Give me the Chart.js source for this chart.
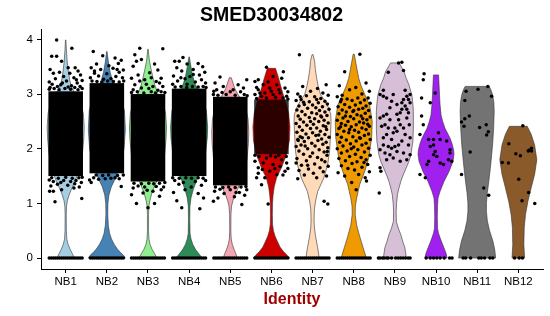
<!DOCTYPE html>
<html>
<head>
<meta charset="utf-8">
<script src="https://cdn.jsdelivr.net/npm/chart.js@4.4.1/dist/chart.umd.min.js"></script>
<style>
  html, body { margin: 0; padding: 0; background: #fff; }
</style>
</head>
<body>
<canvas id="chart" width="550" height="316"></canvas>
<script>
// ======================
// DATA
// ======================

const groups = ['NB1', 'NB2', 'NB3', 'NB4', 'NB5', 'NB6', 'NB7', 'NB8', 'NB9', 'NB10', 'NB11', 'NB12'];
const yTicks = [0, 1, 2, 3, 4];

// violin outline: [expression, relative width]
const violinNB1 = [[0,0.47],[0.08,0.36],[0.16,0.24],[0.25,0.13],[0.35,0.06],[0.5,0.035],[0.8,0.03],[0.95,0.045],[1.05,0.09],[1.15,0.18],[1.25,0.3],[1.4,0.5],[1.6,0.72],[1.9,0.9],[2.2,0.98],[2.4,1],[2.65,0.95],[2.85,0.8],[3.0,0.55],[3.12,0.33],[3.25,0.22],[3.4,0.15],[3.6,0.08],[3.8,0.04],[3.99,0.01]];
const violinNB2 = [[0,1],[0.05,0.9],[0.1,0.74],[0.16,0.58],[0.25,0.4],[0.35,0.25],[0.45,0.15],[0.6,0.08],[0.8,0.05],[1.0,0.06],[1.15,0.11],[1.3,0.24],[1.45,0.45],[1.7,0.75],[2.0,0.93],[2.35,1],[2.7,0.95],[2.95,0.75],[3.1,0.5],[3.25,0.3],[3.4,0.18],[3.55,0.1],[3.7,0.04],[3.78,0.01]];
const violinNB3 = [[0,0.48],[0.08,0.36],[0.16,0.22],[0.25,0.11],[0.35,0.05],[0.5,0.03],[0.8,0.03],[0.95,0.05],[1.05,0.1],[1.2,0.22],[1.35,0.4],[1.6,0.7],[1.9,0.9],[2.2,0.98],[2.4,1],[2.65,0.95],[2.85,0.8],[3.0,0.55],[3.15,0.38],[3.3,0.27],[3.45,0.17],[3.6,0.08],[3.82,0.01]];
const violinNB4 = [[0,0.7],[0.07,0.55],[0.15,0.36],[0.25,0.2],[0.35,0.1],[0.45,0.05],[0.7,0.035],[0.95,0.045],[1.1,0.1],[1.25,0.22],[1.4,0.38],[1.6,0.62],[1.9,0.88],[2.2,0.98],[2.4,1],[2.7,0.93],[2.9,0.75],[3.05,0.5],[3.2,0.3],[3.35,0.18],[3.5,0.1],[3.68,0.01]];
const violinNB5 = [[0,0.38],[0.08,0.3],[0.16,0.2],[0.25,0.11],[0.35,0.05],[0.5,0.03],[0.8,0.035],[0.95,0.07],[1.05,0.14],[1.15,0.25],[1.3,0.45],[1.5,0.7],[1.8,0.9],[2.1,0.98],[2.3,1],[2.55,0.96],[2.75,0.82],[2.9,0.6],[3.0,0.4],[3.1,0.25],[3.2,0.15],[3.3,0.05]];
const violinNB6 = [[0,0.97],[0.05,0.85],[0.12,0.65],[0.2,0.47],[0.3,0.33],[0.4,0.2],[0.5,0.11],[0.62,0.06],[0.8,0.05],[1.0,0.06],[1.15,0.09],[1.3,0.15],[1.47,0.28],[1.65,0.54],[1.9,0.82],[2.15,0.97],[2.4,1],[2.65,0.93],[2.85,0.77],[3.0,0.63],[3.15,0.5],[3.3,0.38],[3.42,0.27],[3.47,0.22]];
const violinNB7 = [[0,0.36],[0.2,0.27],[0.4,0.16],[0.55,0.1],[0.7,0.08],[0.9,0.1],[1.04,0.16],[1.22,0.28],[1.46,0.6],[1.7,0.81],[1.95,0.92],[2.26,0.97],[2.5,1],[2.63,0.98],[2.75,0.86],[2.9,0.62],[2.99,0.43],[3.15,0.3],[3.29,0.22],[3.45,0.15],[3.6,0.11],[3.72,0.03]];
const violinNB8 = [[0,0.68],[0.2,0.5],[0.4,0.32],[0.6,0.16],[0.8,0.08],[0.95,0.09],[1.1,0.16],[1.34,0.32],[1.59,0.6],[1.83,0.81],[2.2,0.97],[2.5,1],[2.8,0.86],[2.99,0.6],[3.15,0.4],[3.29,0.27],[3.45,0.18],[3.6,0.1],[3.73,0.03]];
const violinNB9 = [[0,0.62],[0.1,0.58],[0.19,0.54],[0.3,0.43],[0.43,0.32],[0.55,0.18],[0.67,0.08],[0.85,0.07],[1.0,0.09],[1.16,0.14],[1.28,0.22],[1.4,0.32],[1.52,0.45],[1.64,0.6],[1.76,0.75],[1.88,0.86],[2.13,0.97],[2.37,1],[2.68,1],[2.83,0.97],[2.98,0.92],[3.17,0.76],[3.3,0.6],[3.42,0.49],[3.48,0.38],[3.57,0.23]];
const violinNB10 = [[0,0.6],[0.08,0.55],[0.19,0.43],[0.28,0.32],[0.37,0.22],[0.46,0.13],[0.55,0.08],[0.75,0.07],[0.95,0.08],[1.1,0.11],[1.22,0.22],[1.4,0.43],[1.58,0.7],[1.77,0.92],[1.9,0.97],[1.98,0.95],[2.1,0.86],[2.19,0.76],[2.3,0.6],[2.37,0.49],[2.5,0.36],[2.62,0.27],[2.8,0.22],[2.98,0.19],[3.2,0.16],[3.35,0.14]];
const violinNB11 = [[0,1],[0.15,0.95],[0.31,0.85],[0.5,0.67],[0.68,0.55],[0.85,0.5],[1.01,0.5],[1.2,0.55],[1.35,0.61],[1.55,0.68],[1.77,0.75],[2.1,0.84],[2.38,0.89],[2.68,0.92],[2.85,0.9],[2.99,0.83],[3.08,0.74],[3.14,0.65]];
const violinNB12 = [[0,0.34],[0.25,0.3],[0.56,0.32],[0.8,0.39],[1.04,0.52],[1.29,0.7],[1.53,0.88],[1.8,1],[2.07,0.88],[2.26,0.7],[2.35,0.57],[2.41,0.48]];

// dense point clouds (NB1..NB6): band where cells overlap completely
const cloudLow = [1.5, 1.55, 1.4, 1.5, 1.33, 1.9];
const cloudHigh = [3.05, 3.2, 3.0, 3.1, 2.95, 2.9];

// cells at zero expression: jitter offsets
const zeroFull = [-0.4,-0.35,-0.3,-0.25,-0.2,-0.15,-0.1,-0.05,0,0.05,0.1,0.15,0.2,0.25,0.3,0.35,0.4];
const zeroNB9 = [-0.4,-0.36,-0.3,-0.26,-0.2,-0.16,-0.08,0.02,0.08,0.14,0.2,0.26,0.32,0.37];
const zeroNB10 = [-0.24,-0.14,-0.06,0.02,0.1,0.2,0.33,0.39];
const zeroNB11 = [-0.34,-0.28,-0.16,0.04,0.1,0.18,0.31,0.38];
const zeroNB12 = [-0.09,0.02,0.1];

// individual cells: [jitter, expression]
const cellsNB1 = [[-0.22,3.99],[0.15,3.84],[-0.22,3.69],[-0.34,3.69],[-0.1,3.6],[0.06,3.48],[0.23,3.48],[0.3,3.42],[-0.38,3.45],[-0.3,3.38],[-0.15,3.4],[0.1,3.38],[0.36,3.35],[-0.05,3.32],[0.2,3.3],[-0.25,3.28],[0.4,3.25],[-0.4,3.22],[0.02,3.24],[-0.33,3.18],[0.28,3.2],[-0.12,3.17],[0.14,3.15],[0.35,3.14],[-0.2,3.14],[-0.38,3.12],[0.06,3.13],[0.22,3.12],
  [-0.4,3.09],[-0.28,3.1],[-0.16,3.08],[-0.02,3.1],[0.12,3.09],[0.3,3.08],[0.4,3.1],[-0.08,3.2],[0.26,3.26],
  [-0.26,1.03],[0.39,1.09],[-0.39,1.22],[-0.3,1.22],[-0.1,1.25],[0.2,1.28],[0.33,1.3],[-0.36,1.32],[0.05,1.33],[-0.2,1.35],[0.38,1.38],[0.12,1.4],[-0.3,1.4],[0.25,1.42],[-0.05,1.42],[-0.4,1.43],
  [-0.34,1.47],[-0.18,1.46],[0.0,1.48],[0.16,1.46],[0.32,1.47],[0.4,1.48],[-0.12,1.38],[0.22,1.36]];
const cellsNB2 = [[-0.33,3.78],[-0.1,3.7],[0.2,3.66],[0.35,3.62],[0.28,3.56],[-0.25,3.55],[0.05,3.52],[-0.38,3.48],[0.15,3.47],[-0.15,3.45],[0.4,3.44],[0.3,3.4],[-0.3,3.38],[0,3.37],[-0.2,3.33],[0.22,3.32],[0.38,3.3],[-0.4,3.3],[0.1,3.28],[-0.08,3.27],
  [-0.36,3.24],[-0.24,3.23],[-0.12,3.22],[0.02,3.24],[0.16,3.23],[0.3,3.22],[0.41,3.24],[-0.3,3.42],[0.25,3.45],
  [-0.38,1.38],[0.35,1.31],[-0.42,1.43],[0.3,1.45],[-0.2,1.44],[0.1,1.46],[-0.32,1.47],[0.2,1.47],
  [-0.26,1.52],[-0.1,1.51],[0.04,1.52],[0.26,1.51],[0.4,1.52],[-0.04,1.45]];
const cellsNB3 = [[-0.2,3.84],[0.36,3.83],[-0.32,3.72],[-0.16,3.63],[-0.28,3.6],[-0.36,3.51],[0.16,3.55],[0.24,3.44],[0.04,3.39],[-0.24,3.35],[0.32,3.29],[-0.4,3.29],[-0.08,3.26],[0.2,3.23],[0.12,3.14],[-0.32,3.17],[0.36,3.14],[-0.16,3.11],[0.24,3.07],[-0.36,3.08],[0.02,3.1],
  [-0.4,3.03],[-0.26,3.04],[-0.1,3.02],[0.08,3.04],[0.18,3.02],[0.32,3.04],[0.41,3.03],[-0.04,3.18],[0.28,3.2],[-0.2,3.24],[0.08,3.3],
  [-0.28,1.0],[0.16,1.0],[0,0.92],[-0.4,1.16],[0.28,1.13],[-0.12,1.19],[0.12,1.22],[-0.36,1.28],[0.32,1.25],[-0.08,1.3],[-0.24,1.32],[0.2,1.31],[0.38,1.3],
  [-0.34,1.37],[-0.16,1.36],[0.02,1.37],[0.14,1.36],[0.28,1.37],[0.41,1.38],[-0.02,1.24]];
const cellsNB4 = [[-0.35,3.6],[-0.24,3.6],[-0.15,3.67],[-0.05,3.55],[0.22,3.56],[0.33,3.5],[-0.3,3.48],[0.1,3.45],[-0.18,3.42],[0.38,3.4],[0.25,3.35],[-0.38,3.33],[0.02,3.32],[-0.1,3.28],[0.3,3.26],[-0.28,3.24],[0.15,3.22],[0.4,3.2],[-0.4,3.18],[-0.05,3.18],
  [-0.34,3.13],[-0.2,3.14],[-0.06,3.12],[0.08,3.14],[0.22,3.13],[0.34,3.14],[0.41,3.12],[-0.2,3.3],[0.1,3.36],
  [-0.18,0.92],[0.26,0.9],[-0.3,1.05],[0.35,1.1],[0.22,1.18],[-0.38,1.2],[-0.1,1.25],[0.05,1.3],[0.3,1.33],[-0.25,1.35],[0.15,1.4],[-0.35,1.42],[0.4,1.42],
  [-0.4,1.47],[-0.24,1.46],[-0.08,1.47],[0.06,1.46],[0.22,1.47],[0.34,1.46],[-0.14,1.38]];
const cellsNB5 = [[-0.25,3.31],[0.4,3.26],[-0.37,3.2],[-0.17,3.14],[0.19,3.17],[0.32,3.11],[-0.33,3.08],[0.07,3.08],[-0.4,3.05],[0,3.04],[0.25,3.04],[-0.2,3.03],
  [-0.3,2.98],[-0.1,2.99],[0.12,2.98],[0.34,2.99],[0.41,2.97],[-0.41,2.99],
  [0.28,0.98],[-0.41,1.04],[-0.3,1.1],[0.1,1.12],[0.35,1.15],[-0.15,1.18],[0.22,1.2],[-0.38,1.22],[0,1.25],[0.4,1.25],[-0.25,1.26],
  [-0.36,1.3],[-0.18,1.29],[-0.04,1.3],[0.12,1.29],[0.26,1.3],[0.38,1.31],[0.14,1.2]];
const cellsNB6 = [[-0.12,3.49],[-0.4,3.23],[-0.32,3.26],[0.29,3.41],[0.25,3.29],[0.04,3.32],[-0.2,3.17],[0.13,3.17],[-0.04,3.11],[-0.32,3.08],[0.33,3.11],[0.21,3.02],[-0.16,3.02],[-0.4,2.99],[0.04,2.99],[0.37,2.96],[-0.24,2.96],
  [-0.36,3.12],[0.4,3.04],[-0.08,3.22],[0.18,3.08],[-0.28,3.02],[0.1,2.94],[-0.12,2.93],[0.28,2.93],[-0.36,2.92],[0.4,2.91],[0.0,3.05],
  [-0.08,0.99],[-0.24,1.34],[-0.36,1.47],[-0.16,1.47],[0.13,1.53],[0.33,1.59],[-0.32,1.65],[-0.04,1.59],[0.21,1.68],[-0.4,1.77],[-0.2,1.74],[0.04,1.71],[0.37,1.74],[-0.12,1.83],[0.25,1.8],
  [-0.3,1.86],[0.1,1.85],[0.36,1.86],[-0.4,1.88],[0.18,1.88],[-0.02,1.87],[-0.22,1.62],[0.28,1.52],[0.4,1.64],[-0.32,1.55],[0.08,1.64]];
const cellsNB7 = [[-0.32,3.72],[-0.24,3.14],[0.33,3.17],[0.12,3.1],[-0.05,3.05],[0.25,3.02],[-0.36,3.0],[0.38,2.98],[-0.15,2.97],[0.05,2.95],[0.2,2.92],[-0.28,2.9],[-0.4,2.88],[0.3,2.87],[-0.08,2.86],[0.14,2.84],[0.36,2.82],[-0.2,2.81],[0,2.8],[-0.33,2.78],[0.24,2.77],[0.08,2.75],[-0.12,2.74],[0.4,2.72],[-0.38,2.71],[0.17,2.7],[-0.26,2.68],[0.3,2.67],[-0.02,2.66],[0.1,2.64],[-0.18,2.62],[0.35,2.61],[-0.35,2.6],[0.22,2.58],[-0.08,2.57],[0.05,2.55],[-0.3,2.54],[0.28,2.52],[0.15,2.5],[-0.22,2.49],[0.38,2.47],[-0.4,2.46],[0.02,2.45],[-0.14,2.43],[0.26,2.42],[-0.32,2.4],[0.1,2.38],[-0.05,2.37],[0.34,2.35],[-0.25,2.34],[0.19,2.32],[-0.38,2.3],[0,2.29],[-0.16,2.27],[0.3,2.26],[0.08,2.24],[-0.3,2.22],[0.4,2.21],[-0.1,2.2],[0.22,2.18],[-0.36,2.17],[0.13,2.15],[-0.2,2.13],[0.33,2.12],[-0.02,2.1],[0.25,2.08],[-0.28,2.07],[0.06,2.05],[-0.4,2.04],[0.37,2.02],[-0.12,2.0],[0.16,1.98],[-0.33,1.96],[0.28,1.94],[0,1.92],[-0.22,1.9],[0.35,1.88],[-0.06,1.86],[0.12,1.84],[-0.38,1.82],[0.22,1.8],[-0.15,1.78],[0.3,1.76],[-0.4,1.74],[0.05,1.72],[-0.27,1.7],[0.38,1.68],[0.18,1.65],[-0.1,1.63],[-0.33,1.6],[0.26,1.58],[0.02,1.55],[-0.2,1.52],[0.34,1.5],[0.1,1.47],[-0.36,1.45],[0.28,1.04],[0.37,0.99],
  [-0.3,2.95],[-0.22,2.85],[0.1,2.9],[-0.35,2.15],[-0.25,2.2],[-0.18,2.05],[0.2,2.6],[0.32,2.4],[-0.05,2.5],[0.15,2.25],[0.36,1.95],[-0.12,1.7]];
const cellsNB8 = [[0.15,3.73],[-0.22,3.41],[0.3,3.2],[-0.35,3.15],[0.05,3.12],[-0.1,3.08],[0.38,3.05],[0.2,3.0],[-0.28,2.98],[-0.4,2.95],[0.1,2.93],[0.35,2.93],[-0.16,2.91],[0.26,2.89],[-0.04,2.88],[-0.32,2.86],[0.16,2.84],[0.4,2.83],[-0.22,2.81],[0.04,2.8],[0.3,2.78],[-0.38,2.77],[-0.1,2.76],[0.22,2.74],[0.12,2.72],[-0.28,2.71],[0.36,2.7],[-0.02,2.68],[-0.18,2.67],[0.28,2.65],[-0.36,2.64],[0.08,2.62],[0.18,2.6],[-0.08,2.59],[0.4,2.58],[-0.26,2.56],[0,2.55],[0.32,2.53],[-0.4,2.52],[-0.14,2.5],[0.14,2.49],[0.24,2.47],[-0.3,2.46],[0.06,2.44],[-0.2,2.43],[0.38,2.41],[-0.06,2.4],[0.2,2.38],[-0.36,2.37],[0.3,2.35],[0.02,2.34],[-0.24,2.32],[0.12,2.3],[-0.12,2.29],[0.36,2.27],[-0.4,2.26],[0.26,2.24],[-0.02,2.22],[-0.3,2.21],[0.16,2.19],[0.4,2.17],[-0.18,2.16],[0.06,2.14],[-0.34,2.12],[0.3,2.1],[-0.08,2.09],[0.2,2.07],[-0.26,2.05],[0,2.03],[0.36,2.01],[-0.4,2.0],[0.1,1.98],[-0.16,1.96],[0.26,1.94],[-0.3,1.92],[0.04,1.9],[0.4,1.88],[-0.1,1.86],[0.18,1.84],[-0.36,1.82],[0.3,1.8],[-0.2,1.78],[0.08,1.76],[-0.04,1.73],[0.34,1.71],[-0.3,1.69],[0.2,1.66],[-0.14,1.64],[0.02,1.61],[0.38,1.58],[-0.38,1.56],[0.12,1.53],[-0.22,1.5],[0.28,1.47],[0.31,1.41],[-0.05,1.38],[0.06,1.25],
  [-0.3,2.9],[-0.2,2.6],[0.22,2.55],[-0.1,2.35],[0.34,2.45],[0,2.7],[-0.32,2.4],[0.14,2.2],[0.25,1.75],[-0.06,2.0]];
const cellsNB9 = [[0.09,3.57],[0.17,3.58],[-0.16,3.4],[0.21,3.43],[-0.28,3.07],[-0.36,2.99],[-0.28,2.96],[-0.2,2.93],[-0.04,2.99],[0.25,3.07],[0.29,2.96],[0.33,2.9],[0.21,2.9],[0.37,2.84],[0.25,2.78],[0.17,2.72],[0.13,2.66],[0.29,2.72],[0.33,2.66],[0.05,2.63],[-0.2,2.63],[-0.28,2.6],[-0.36,2.56],[-0.12,2.53],[-0.24,2.44],[-0.32,2.41],[-0.16,2.38],[0,2.38],[0.05,2.32],[-0.04,2.29],[0.13,2.44],[0.21,2.38],[0.37,2.2],[0.17,2.14],[0.09,2.07],[0,2.04],[-0.08,2.01],[-0.16,2.04],[-0.28,2.07],[-0.36,1.98],[-0.24,1.92],[-0.12,1.89],[0.05,1.95],[0.21,1.92],[0.29,1.8],[0.37,1.89],[0.13,1.77],[-0.36,1.65],[-0.34,1.59],[-0.38,1.19],
  [-0.08,2.87],[0.05,2.81],[0.17,2.84],[-0.12,2.75],[0.37,2.99],[0.09,2.53],[0.29,2.56],[0.35,2.44],[0.25,2.26],[-0.2,2.26],[-0.28,2.2],[-0.08,2.17],[0.33,2.07],[-0.2,1.8],[-0.04,1.83]];
const cellsNB10 = [[-0.31,3.26],[-0.02,3.02],[-0.35,2.93],[-0.14,2.84],[-0.35,2.6],[-0.31,2.44],[-0.39,2.26],[-0.18,2.17],[-0.06,2.17],[0.1,2.17],[0.26,2.14],[0.06,2.29],[-0.14,2.04],[-0.02,1.95],[-0.06,1.89],[0.02,1.86],[0.34,1.98],[0.34,1.92],[0.3,1.8],[-0.18,1.77],[-0.22,1.71],[0.1,1.74],[0.18,1.71],[0.38,1.77],[-0.39,1.53],[-0.26,1.47],[-0.06,2.07],[-0.29,3.37]];
const cellsNB11 = [[-0.27,3.05],[0.02,3.09],[0.26,3.14],[0.35,2.96],[-0.3,2.88],[-0.19,2.6],[-0.3,2.55],[-0.38,2.49],[-0.32,2.41],[0.06,2.39],[0.22,2.44],[0.27,2.31],[0.23,2.25],[-0.17,1.94],[-0.38,1.53],[0.16,1.28],[0.28,1.15]];
const cellsNB12 = [[0.11,2.42],[-0.23,2.09],[-0.06,1.91],[0.05,1.87],[-0.39,1.75],[-0.24,1.74],[0.26,1.97],[0.32,2.01],[0.24,1.96],[0.32,1.96],[0.01,1.44],[0.25,1.2],[0.09,1.05],[0.4,1.0]];

// ======================
// STYLE
// ======================

const fillColors = ['#a6cee3', '#4682b4', '#90ee90', '#2e8b57', '#f4a7b3', '#cd0000', '#ffdab9', '#ee9a00', '#d8bfd8', '#a020f0', '#737373', '#8b5a2b'];
const cloudAlpha = [1, 1, 1, 1, 1, 0.78];
const violinHalf = 0.45;
const cloudHalf = 0.42;

const violins = [violinNB1, violinNB2, violinNB3, violinNB4, violinNB5, violinNB6, violinNB7, violinNB8, violinNB9, violinNB10, violinNB11, violinNB12];
const cells = [cellsNB1, cellsNB2, cellsNB3, cellsNB4, cellsNB5, cellsNB6, cellsNB7, cellsNB8, cellsNB9, cellsNB10, cellsNB11, cellsNB12];
const zeros = [zeroFull, zeroFull, zeroFull, zeroFull, zeroFull, zeroFull, zeroFull, zeroFull, zeroNB9, zeroNB10, zeroNB11, zeroNB12];

Chart.defaults.font.family = "'Liberation Sans', Arial, Helvetica, sans-serif";
Chart.defaults.color = '#000';

// ======================
// VIOLINS (drawn under the points)
// ======================

const violinPlugin = {
  id: 'violins',
  beforeDatasetsDraw(chart) {
    const { ctx, scales: { x, y } } = chart;
    ctx.save();

    violins.forEach((prof, i) => {
      const c = i + 1;
      ctx.beginPath();
      prof.forEach(([v, w], k) => {
        const px = x.getPixelForValue(c + w * violinHalf);
        const py = y.getPixelForValue(v);
        if (k === 0) ctx.moveTo(px, py); else ctx.lineTo(px, py);
      });
      for (let k = prof.length - 1; k >= 0; k--) {
        const [v, w] = prof[k];
        ctx.lineTo(x.getPixelForValue(c - w * violinHalf), y.getPixelForValue(v));
      }
      ctx.closePath();
      ctx.fillStyle = fillColors[i];
      ctx.fill();
      ctx.lineWidth = 0.6;
      ctx.strokeStyle = '#333';
      ctx.lineJoin = 'round';
      ctx.stroke();
    });

    // band where the cells overlap completely
    cloudLow.forEach((lo, i) => {
      const c = i + 1;
      const x0 = x.getPixelForValue(c - cloudHalf);
      const x1 = x.getPixelForValue(c + cloudHalf);
      const y0 = y.getPixelForValue(cloudHigh[i]);
      const y1 = y.getPixelForValue(lo);
      ctx.globalAlpha = cloudAlpha[i];
      ctx.fillStyle = '#000';
      ctx.fillRect(x0, y0, x1 - x0, y1 - y0);
    });

    ctx.restore();
  }
};

// ======================
// CHART
// ======================

const datasets = groups.map((g, i) => ({
  label: g,
  data: cells[i].map(([dx, v]) => ({ x: i + 1 + dx, y: v }))
    .concat(zeros[i].map(dx => ({ x: i + 1 + dx, y: 0 }))),
  pointRadius: 1.75,
  pointHoverRadius: 1.75,
  pointBorderWidth: 0,
  pointBackgroundColor: '#000',
  showLine: false
}));

new Chart(document.getElementById('chart'), {
  type: 'scatter',
  data: { datasets },
  plugins: [violinPlugin],
  options: {
    responsive: false,
    animation: false,
    devicePixelRatio: 1,
    layout: { padding: { left: 0, right: 7, top: 0, bottom: 0 } },
    plugins: {
      legend: { display: false },
      tooltip: { enabled: false },
      title: {
        display: true,
        text: 'SMED30034802',
        color: '#000',
        font: { size: 19.5, weight: 'bold' },
        padding: { top: 4, bottom: 1.6 }
      }
    },
    scales: {
      x: {
        type: 'linear',
        min: 0.4,
        max: 12.6,
        afterBuildTicks: s => { s.ticks = groups.map((g, i) => ({ value: i + 1 })); },
        afterFit: s => { s.height = 47; },
        ticks: {
          callback: v => groups[v - 1],
          font: { size: 11.5 },
          color: '#000',
          padding: 2,
          autoSkip: false,
          maxRotation: 0
        },
        grid: { drawOnChartArea: false, tickLength: 4, tickColor: '#000' },
        border: { color: '#000', width: 1 },
        title: {
          display: true,
          text: 'Identity',
          color: '#a00000',
          font: { size: 16, weight: 'bold' },
          padding: { top: 7, bottom: 7 }
        }
      },
      y: {
        min: -0.2,
        max: 4.19,
        afterBuildTicks: s => { s.ticks = yTicks.map(v => ({ value: v })); },
        afterFit: s => { s.width = 41; },
        ticks: { font: { size: 11.5 }, color: '#000', padding: 4 },
        grid: { drawOnChartArea: false, tickLength: 4, tickColor: '#000' },
        border: { color: '#000', width: 1 }
      }
    }
  }
});
</script>
</body>
</html>
